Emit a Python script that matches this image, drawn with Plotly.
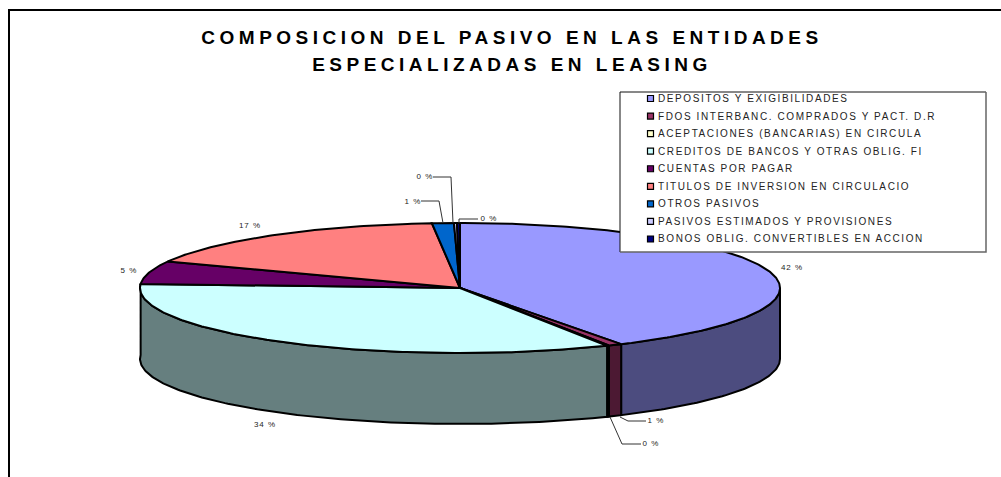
import numpy as np
import plotly.graph_objects as go

TITLE = "COMPOSICION DEL PASIVO EN LAS ENTIDADES<br>ESPECIALIZADAS EN LEASING"
categories = ["DEPOSITOS Y EXIGIBILIDADES", "FDOS INTERBANC. COMPRADOS Y PACT. D.R",
              "ACEPTACIONES (BANCARIAS) EN CIRCULA", "CREDITOS DE BANCOS Y OTRAS OBLIG. FI",
              "CUENTAS POR PAGAR", "TITULOS DE INVERSION EN CIRCULACIO", "OTROS PASIVOS",
              "PASIVOS ESTIMADOS Y PROVISIONES", "BONOS OBLIG. CONVERTIBLES EN ACCION"]
values = [41.6, 0.7, 0.1, 33.6, 5.7, 16.9, 1.1, 0.15, 0.15]
shown_labels = ["42 %", "1 %", "0 %", "34 %", "5 %", "17 %", "1 %", "0 %", "0 %"]
colors = ["#9999FF", "#993366", "#FFFFCC", "#CCFFFF", "#660066", "#FF8080", "#0066CC", "#CCCCFF", "#000080"]

# slice label placement (text centre) and leader-line bends, in page pixels
label_pos = [(792, 268), (656, 421), (651, 444), (265, 425), (129, 271), (250, 226), (413, 202), (425, 177), (489, 219)]
leaders = {1: [(620, 417), (628, 421), (646, 421)],
           2: [(610, 417), (622, 444), (641, 444)],
           6: [(443, 223), (439, 201), (421, 201)],
           7: [(453, 223), (451, 177), (433, 177)],
           8: [(459, 223), (459, 219), (478, 219)]}

CX, CY, RX, RY, DEPTH = 460, 288, 320, 65, 71


def shade(hex_color, f=0.5):
    return "#%02X%02X%02X" % tuple(int(int(hex_color[i:i + 2], 16) * f) for i in (1, 3, 5))


def ell(t, dy=0):
    return CX + RX * np.sin(t), CY - RY * np.cos(t) + dy


fig = go.Figure()
total = sum(values)
edges = np.concatenate([[0], np.cumsum(values)]) / total * 2 * np.pi
line = dict(color="black", width=2)

# sides (only the part facing the viewer)
for v, a, b, c in zip(values, edges[:-1], edges[1:], colors):
    lo, hi = max(a, np.pi / 2), min(b, 3 * np.pi / 2 + 0.0)
    if b > 3 * np.pi / 2 and a < 3 * np.pi / 2:
        hi = b
    if hi <= lo:
        continue
    t = np.linspace(lo, hi, max(int((hi - lo) * 80), 2))
    xt, yt = ell(t)
    xb, yb = ell(t[::-1], DEPTH)
    fig.add_trace(go.Scatter(x=np.r_[xt, xb, xt[0]], y=np.r_[yt, yb, yt[0]], mode="lines", fill="toself",
                             fillcolor=shade(c), line=line, hoverinfo="skip", showlegend=False))

# top face
for v, a, b, c, name in zip(values, edges[:-1], edges[1:], colors, categories):
    t = np.linspace(a, b, max(int((b - a) * 80), 2))
    xt, yt = ell(t)
    fig.add_trace(go.Scatter(x=np.r_[CX, xt, CX], y=np.r_[CY, yt, CY], mode="lines", fill="toself",
                             fillcolor=c, line=line, name=name, hoverinfo="name", showlegend=False))

# leader lines
for pts in leaders.values():
    fig.add_trace(go.Scatter(x=[p[0] for p in pts], y=[p[1] for p in pts], mode="lines",
                             line=dict(color="#333333", width=1), hoverinfo="skip", showlegend=False))

# slice labels
fig.add_trace(go.Scatter(x=[p[0] for p in label_pos], y=[p[1] for p in label_pos], mode="text", text=shown_labels,
                         textposition="middle center",
                         textfont=dict(family="Liberation Sans", size=8, color="#222222"),
                         hoverinfo="skip", showlegend=False))

# legend box
L, T, R, B = 620, 92, 986, 252
fig.add_trace(go.Scatter(x=[L, R, R, L, L], y=[T, T, B, B, T], mode="lines", fill="toself", fillcolor="white",
                         line=dict(color="rgba(0,0,0,0)", width=0), hoverinfo="skip", showlegend=False))
fig.add_trace(go.Scatter(x=[L, L, R], y=[B, T, T], mode="lines", line=dict(color="#111111", width=1),
                         hoverinfo="skip", showlegend=False))
fig.add_trace(go.Scatter(x=[R, R, L], y=[T, B, B], mode="lines", line=dict(color="#666666", width=1.5),
                         hoverinfo="skip", showlegend=False))
ly = [98.5 + 17.56 * i for i in range(len(categories))]
fig.add_trace(go.Scatter(x=[650.5] * len(categories), y=ly, mode="markers",
                         marker=dict(symbol="square", size=6, color=colors, line=dict(color="black", width=1.2)),
                         hoverinfo="skip", showlegend=False))
fig.add_trace(go.Scatter(x=[658] * len(categories), y=[v + 1 for v in ly], mode="text", text=categories,
                         textposition="middle right",
                         textfont=dict(family="Liberation Sans", size=10, color="#222222"),
                         hoverinfo="skip", showlegend=False))

shapes = [dict(type="line", x0=9, y0=10, x1=1001, y1=10, line=dict(color="black", width=2)),
          dict(type="line", x0=9, y0=9, x1=9, y1=477, line=dict(color="black", width=2))]

fig.update_layout(
    width=1001, height=477, margin=dict(l=0, r=0, t=0, b=0), paper_bgcolor="white", plot_bgcolor="white",
    autosize=False,
    title=dict(text=TITLE, x=512 / 1001, xanchor="center", y=1 - 44 / 477, yanchor="top",
               font=dict(family="Liberation Sans", size=19, color="black", weight="bold")),
    xaxis=dict(range=[0, 1001], visible=False, fixedrange=True),
    yaxis=dict(range=[477, 0], visible=False, fixedrange=True),
    shapes=shapes, showlegend=False)

post = """
var s=document.createElement('style');
s.textContent='body{margin:0} text.gtitle{letter-spacing:4.5px;opacity:.99} .textpoint text{letter-spacing:1px;opacity:.99} .textpoint text[style*="font-size: 10px"]{letter-spacing:1.6px}';
document.head.appendChild(s);
function fixTitle(){document.querySelectorAll('.gtitle tspan.line').forEach(function(t,i){if(i>0)t.setAttribute('dy','1.42em');});}
fixTitle();setTimeout(fixTitle,50);setTimeout(fixTitle,300);
"""
fig.write_html("out.html", post_script=post, config={"displayModeBar": False})
